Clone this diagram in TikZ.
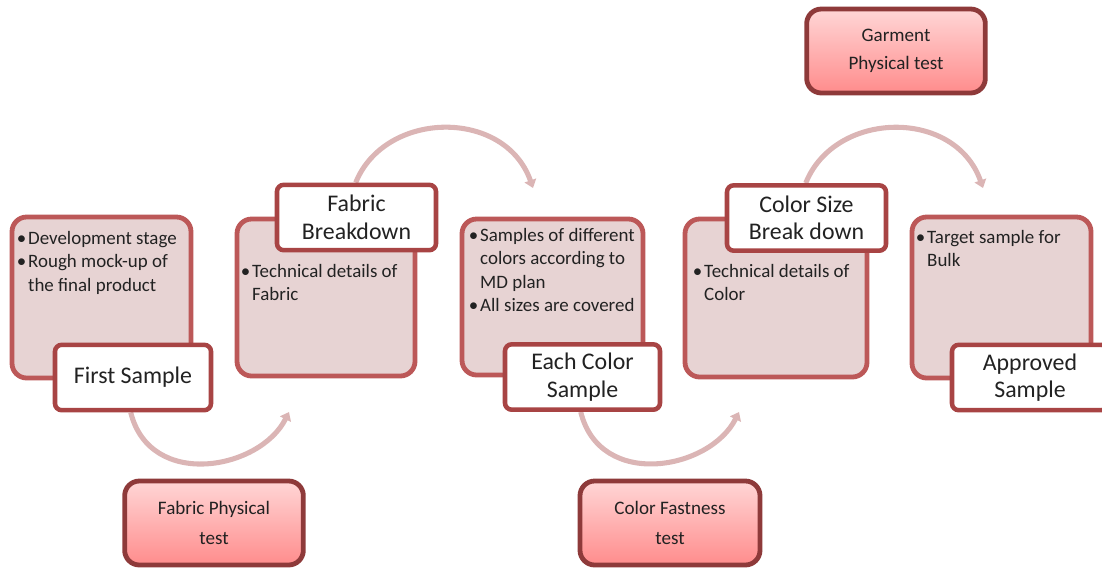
\documentclass[tikz,border=0pt]{standalone}
\usepackage{fontspec}
\setmainfont{Carlito}
\usetikzlibrary{arrows.meta,calc,fit}
\definecolor{boxfill}{HTML}{E7D3D3}
\definecolor{boxline}{HTML}{BC5858}
\definecolor{lblline}{HTML}{A84444}
\definecolor{testline}{HTML}{8E3A3A}
\definecolor{testtop}{HTML}{FFD6D6}
\definecolor{testbot}{HTML}{FF8C8C}
\definecolor{arcc}{HTML}{DBB5B5}
\definecolor{txt}{HTML}{222222}
\newcommand\stagebullet{\makebox[8.5pt][l]{\textbullet}}
\pgfdeclarelayer{arcs}
\pgfsetlayers{arcs,main}
\tikzset{
  stagebox/.style={draw=boxline, line width=3.6pt, fill=boxfill, rounded corners=11pt, inner sep=0pt},
  labelbox/.style={draw=lblline, line width=3.4pt, fill=white, rounded corners=5pt, inner sep=0pt,
    align=center, font=\fontsize{17.9}{20.6}\selectfont, text=txt, minimum height=49pt},
  testbox/.style={draw=testline, line width=3.6pt, top color=testtop, bottom color=testbot,
    rounded corners=11pt, inner sep=0pt, align=center, text=txt, minimum width=134pt, minimum height=63pt},
  bullets/.style={anchor=base west, inner sep=0pt, font=\fontsize{14.2}{17.5}\selectfont, text=txt},
  flow/.style={draw=arcc, line width=3.8pt, -{Triangle[length=6pt,width=9pt]}},
}
\begin{document}
\begin{tikzpicture}[x=0.75pt,y=-0.75pt]
\useasboundingbox (0,0) rectangle (1102,569);
\clip (0,0) rectangle (1102,569);

% coordinates for free arrow ends
\coordinate (e1) at (289,412);
\coordinate (e2) at (533,188);
\coordinate (e3) at (739,412);
\coordinate (e4) at (983,188);

% stage boxes
\node[stagebox, fit={(12,217) (191,378)}] (b1) {};
\node[stagebox, fit={(237,219) (415,376)}] (b2) {};
\node[stagebox, fit={(462,219) (643,375)}] (b3) {};
\node[stagebox, fit={(685,219) (867,377)}] (b4) {};
\node[stagebox, fit={(912,217) (1091,378)}] (b5) {};

% bullet texts
\node[bullets] (t1) at ($(b1.north west)+(7,30)$) {\begin{tabular}[t]{@{}l@{}l@{}}\stagebullet & Development stage\\ \stagebullet & Rough mock-up of\\ & the final product\end{tabular}};
\node[bullets] (t2) at ($(b2.north west)+(6,61)$) {\begin{tabular}[t]{@{}l@{}l@{}}\stagebullet & Technical details of\\ & Fabric\end{tabular}};
\node[bullets] (t3) at ($(b3.north west)+(9,25)$) {\begin{tabular}[t]{@{}l@{}l@{}}\stagebullet & Samples of different\\ & colors according to\\ & MD plan\\ \stagebullet & All sizes are covered\end{tabular}};
\node[bullets] (t4) at ($(b4.north west)+(10,61)$) {\begin{tabular}[t]{@{}l@{}l@{}}\stagebullet & Technical details of\\ & Color\end{tabular}};
\node[bullets] (t5) at ($(b5.north west)+(6,29)$) {\begin{tabular}[t]{@{}l@{}l@{}}\stagebullet & Target sample for\\ & Bulk\end{tabular}};

% labels
\node[labelbox, minimum width=117pt] (l1) at (133,377.5) {First Sample};
\node[labelbox, minimum width=119.25pt] (l2) at (356.5,217.5) {Fabric\\Breakdown};
\node[labelbox, minimum width=116.25pt] (l3) at (582.5,377) {Each Color\\Sample};
\node[labelbox, minimum width=119.25pt] (l4) at (806.5,218) {Color Size\\Break down};
\node[labelbox, minimum width=117pt] (l5) at (1030,377.5) {Approved\\Sample};

% flow arcs (behind the boxes)
\begin{pgfonlayer}{arcs}
\draw[flow] ($(l1.south west)+(78,0)$) .. controls (150,490) and (260,470) .. (e1);
\draw[flow] ($(l2.north west)+(81,0)$) .. controls (385,110) and (505,108) .. (e2);
\draw[flow] ($(l3.south west)+(78,0)$) .. controls (600,490) and (710,470) .. (e3);
\draw[flow] ($(l4.north west)+(81,0)$) .. controls (835,110) and (955,108) .. (e4);
\end{pgfonlayer}

% test boxes
\node[testbox, font=\fontsize{14.3}{22.5}\selectfont] (f1) at (214,523) {Fabric Physical\\test};
\node[testbox, font=\fontsize{14.3}{22.5}\selectfont, minimum width=135pt] (f2) at (670,523) {Color Fastness\\test};
\node[testbox, font=\fontsize{14.3}{20.5}\selectfont] (f3) at (896,51) {Garment\\Physical test};
\end{tikzpicture}
\end{document}
